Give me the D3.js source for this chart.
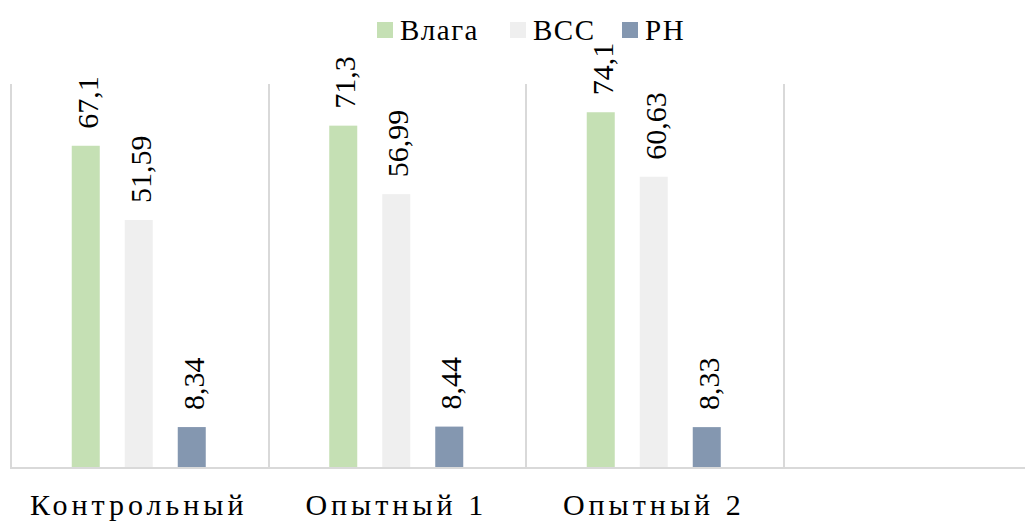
<!DOCTYPE html>
<html>
<head>
<meta charset="utf-8">
<script src="https://cdn.jsdelivr.net/npm/d3@7"></script>
<style>
  html, body { margin: 0; padding: 0; background: #fff; }
  svg { display: block; }
</style>
</head>
<body>
<svg id="chart" width="1025" height="521"></svg>
<script>
// Categories along the x axis (the last slot is empty)
const categories = ["Контрольный", "Опытный 1", "Опытный 2", ""];
// Series
const seriesNames = ["Влага", "ВСС", "PH"];
const vlaga = [67.1, 71.3, 74.1, null];
const vss = [51.59, 56.99, 60.63, null];
const ph = [8.34, 8.44, 8.33, null];
const seriesColors = ["#c5e0b4", "#efefef", "#8497b0"];
const labelFormat = v => String(v).replace(".", ",");

const seriesValues = [vlaga, vss, ph];
const FONT = '"Liberation Serif"';

const svg = d3.select("#chart");
const W = 1025, H = 521;
const plot = { left: 10, right: 1040, top: 84, bottom: 467 };

const x = d3.scaleBand()
  .domain(categories.map((c, i) => i))
  .range([plot.left, plot.right])
  .padding(0);

const xInner = d3.scaleBand()
  .domain(seriesNames)
  .range([0, x.bandwidth()])
  .paddingInner(0.4717)
  .paddingOuter(1.165);

const y = d3.scaleLinear().domain([0, 80]).range([plot.bottom, plot.top]);

// vertical category separators
svg.append("g")
  .selectAll("line")
  .data(d3.range(categories.length))
  .join("line")
  .attr("x1", i => Math.round(x(i)) + 1)
  .attr("x2", i => Math.round(x(i)) + 1)
  .attr("y1", plot.top)
  .attr("y2", plot.bottom)
  .attr("stroke", "#d9d9d9")
  .attr("stroke-width", 2);

// bars
const flat = [];
categories.forEach((c, i) => {
  seriesNames.forEach((s, j) => {
    const v = seriesValues[j][i];
    if (v != null) flat.push({ i, s, j, v });
  });
});

svg.append("g")
  .selectAll("rect")
  .data(flat)
  .join("rect")
  .attr("x", d => x(d.i) + xInner(d.s))
  .attr("y", d => y(d.v))
  .attr("width", xInner.bandwidth())
  .attr("height", d => y(0) - y(d.v))
  .attr("fill", d => seriesColors[d.j]);

// value labels, rotated
svg.append("g")
  .selectAll("text")
  .data(flat)
  .join("text")
  .attr("transform", d => {
    const cx = x(d.i) + xInner(d.s) + xInner.bandwidth() / 2 + 12;
    return `translate(${cx},${y(d.v) - 17}) rotate(-90)`;
  })
  .attr("text-anchor", "start")
  .style("font-family", FONT)
  .style("font-size", "30px")
  .attr("fill", "#000")
  .text(d => labelFormat(d.v));

// x axis baseline
svg.append("line")
  .attr("x1", plot.left)
  .attr("x2", W)
  .attr("y1", plot.bottom + 1)
  .attr("y2", plot.bottom + 1)
  .attr("stroke", "#d9d9d9")
  .attr("stroke-width", 2);

// category labels
const xAxis = d3.axisBottom(x).tickSize(0).tickFormat(i => categories[i]);
const gx = svg.append("g")
  .attr("transform", `translate(0,${plot.bottom})`)
  .call(xAxis);
gx.select(".domain").remove();
gx.selectAll("text")
  .attr("y", 48)
  .attr("dy", 0)
  .style("font-family", FONT)
  .style("font-size", "30px")
  .style("letter-spacing", "4px")
  .attr("fill", "#000");

// legend
const legendItems = [
  { name: seriesNames[0], color: seriesColors[0], x: 377 },
  { name: seriesNames[1], color: seriesColors[1], x: 510 },
  { name: seriesNames[2], color: seriesColors[2], x: 622 }
];
const lg = svg.append("g");
legendItems.forEach(it => {
  lg.append("rect")
    .attr("x", it.x).attr("y", 22)
    .attr("width", 16).attr("height", 16)
    .attr("fill", it.color);
  lg.append("text")
    .attr("x", it.x + 23).attr("y", 40)
    .style("font-family", FONT)
    .style("font-size", "29px")
    .style("letter-spacing", "1.5px")
    .attr("fill", "#000")
    .text(it.name);
});
</script>
</body>
</html>
